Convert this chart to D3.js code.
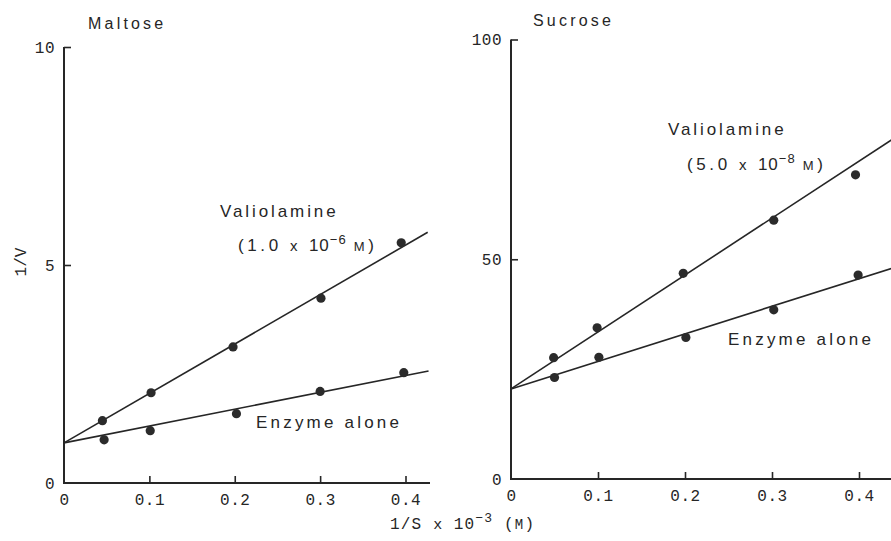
<meta charset="utf-8">
<body></body>
<script src="https://d3js.org/d3.v7.min.js"></script>
<script>
// measured points (1/S x 10^-3, 1/V)
var maltoseEnzymeX = [0.047, 0.101, 0.202, 0.300, 0.398];
var maltoseEnzymeY = [0.99, 1.20, 1.59, 2.10, 2.53];
var maltoseValX = [0.045, 0.102, 0.198, 0.301, 0.395];
var maltoseValY = [1.43, 2.07, 3.12, 4.24, 5.51];
var sucroseEnzymeX = [0.050, 0.101, 0.201, 0.302, 0.399];
var sucroseEnzymeY = [23.1, 27.7, 32.2, 38.5, 46.4];
var sucroseValX = [0.049, 0.099, 0.198, 0.302, 0.396];
var sucroseValY = [27.6, 34.4, 46.8, 58.9, 69.2];

// fitted lines, end points
var maltoseEnzymeFit = [[0, 0.92], [0.427, 2.57]];
var maltoseValFit = [[0, 0.92], [0.426, 5.75]];
var sucroseEnzymeFit = [[0, 20.5], [0.45, 48.7]];
var sucroseValFit = [[0, 20.5], [0.45, 78.8]];

var xTicks = [0, 0.1, 0.2, 0.3, 0.4];
var maltoseYTicks = [0, 5, 10];
var sucroseYTicks = [0, 50, 100];

var ink = "#262626";
var mono = "'Liberation Mono', 'DejaVu Sans Mono', monospace";
var sans = "'Liberation Sans', Arial, sans-serif";

var svg = d3.select("body").append("svg")
  .attr("width", 891)
  .attr("height", 541)
  .style("background", "#fff");

function panel(o) {
  var x = d3.scaleLinear().domain([0, 0.4]).range(o.xr);
  var y = d3.scaleLinear().domain(o.yd).range(o.yr);
  var g = svg.append("g");

  // axes
  var xa = g.append("g")
    .attr("transform", "translate(0," + o.yr[0] + ")")
    .call(d3.axisBottom(x).tickValues(xTicks).tickSize(-7).tickSizeOuter(0)
      .tickPadding(11).tickFormat(function(d) { return d === 0 ? "0" : d3.format(".1f")(d); }));
  xa.select(".domain").remove();
  xa.selectAll(".tick").filter(function(d) { return d === 0; }).select("line").remove();

  var ya = g.append("g")
    .attr("transform", "translate(" + o.xr[0] + ",0)")
    .call(d3.axisLeft(y).tickValues(o.yTicks).tickSize(-7).tickSizeOuter(0).tickPadding(9));
  ya.select(".domain").remove();
  ya.selectAll(".tick").filter(function(d) { return d === 0; }).select("line").remove();

  g.selectAll(".tick line").attr("stroke", ink).attr("stroke-width", 1.6);
  g.selectAll(".tick text").attr("fill", ink).style("font-family", mono)
    .style("font-size", "16px").style("letter-spacing", "0.5px");

  g.append("line").attr("x1", o.xr[0]).attr("x2", o.xEnd)
    .attr("y1", o.yr[0]).attr("y2", o.yr[0])
    .attr("stroke", ink).attr("stroke-width", 2);
  g.append("line").attr("x1", o.xr[0]).attr("x2", o.xr[0])
    .attr("y1", o.yr[0] + 1).attr("y2", y(o.yd[1]))
    .attr("stroke", ink).attr("stroke-width", 2);

  var line = d3.line().x(function(d) { return x(d[0]); }).y(function(d) { return y(d[1]); });
  [o.fitA, o.fitB].forEach(function(f) {
    g.append("path").attr("d", line(f)).attr("fill", "none")
      .attr("stroke", ink).attr("stroke-width", 1.6);
  });

  [[o.ax, o.ay], [o.bx, o.by]].forEach(function(s) {
    g.selectAll(null).data(s[0]).enter().append("circle")
      .attr("cx", function(d) { return x(d); })
      .attr("cy", function(d, i) { return y(s[1][i]); })
      .attr("r", 4.6)
      .attr("fill", "#2b2b2b");
  });

  g.append("text").attr("x", o.title[0]).attr("y", o.title[1])
    .text(o.name).attr("fill", ink)
    .style("font-family", sans).style("font-size", "16px").style("letter-spacing", "3.2px");

  g.append("text").attr("x", o.val[0]).attr("y", o.val[1])
    .text("Valiolamine").attr("fill", ink)
    .style("font-family", sans).style("font-size", "17px").style("letter-spacing", "2.9px");

  var c = g.append("text").attr("x", o.conc[0]).attr("y", o.conc[1]).attr("fill", ink)
    .style("font-family", sans).style("font-size", "17px").style("letter-spacing", "3.6px");
  c.append("tspan").text("(" + o.mant + " ");
  c.append("tspan").text("x ").style("font-size", "15px");
  c.append("tspan").text("10").style("letter-spacing", "1px");
  c.append("tspan").text("\u2212" + o.exp).attr("dy", -7).style("font-size", "13px").style("letter-spacing", "1px");
  c.append("tspan").text(" M").attr("dy", 7).style("font-size", "13px");
  c.append("tspan").text(")");

  g.append("text").attr("x", o.enz[0]).attr("y", o.enz[1])
    .text("Enzyme alone").attr("fill", ink)
    .style("font-family", sans).style("font-size", "17px").style("letter-spacing", "3.2px");
}

panel({
  name: "Maltose", title: [88, 29],
  xr: [64, 405.5], xEnd: 430, yd: [0, 10], yr: [483, 47], yTicks: maltoseYTicks,
  ax: maltoseEnzymeX, ay: maltoseEnzymeY, bx: maltoseValX, by: maltoseValY,
  fitA: maltoseEnzymeFit, fitB: maltoseValFit,
  val: [220, 217], conc: [238, 251], mant: "1.0", exp: "6", enz: [256, 428]
});

panel({
  name: "Sucrose", title: [533, 26],
  xr: [511, 859], xEnd: 891, yd: [0, 100], yr: [479, 39.5], yTicks: sucroseYTicks,
  ax: sucroseEnzymeX, ay: sucroseEnzymeY, bx: sucroseValX, by: sucroseValY,
  fitA: sucroseEnzymeFit, fitB: sucroseValFit,
  val: [668, 135], conc: [687, 170], mant: "5.0", exp: "8", enz: [728, 345]
});

// shared axis titles
var xt = svg.append("text").attr("x", 390).attr("y", 529).attr("fill", ink)
  .style("font-family", mono).style("font-size", "16px").style("letter-spacing", "1.2px");
xt.append("tspan").text("1/S ");
xt.append("tspan").text("x ").style("font-size", "15px");
xt.append("tspan").text("10");
xt.append("tspan").text("\u22123").attr("dy", -7).style("font-size", "13px");
xt.append("tspan").text("  (").attr("dy", 7);
xt.append("tspan").text("M").style("font-size", "14px");
xt.append("tspan").text(")");

svg.append("text")
  .attr("transform", "translate(26,262) rotate(-90)")
  .attr("text-anchor", "middle")
  .attr("fill", ink)
  .style("font-family", mono).style("font-size", "16px")
  .text("1/V");
</script>
<style>
body { margin: 0; }
svg { display: block; }
</style>
